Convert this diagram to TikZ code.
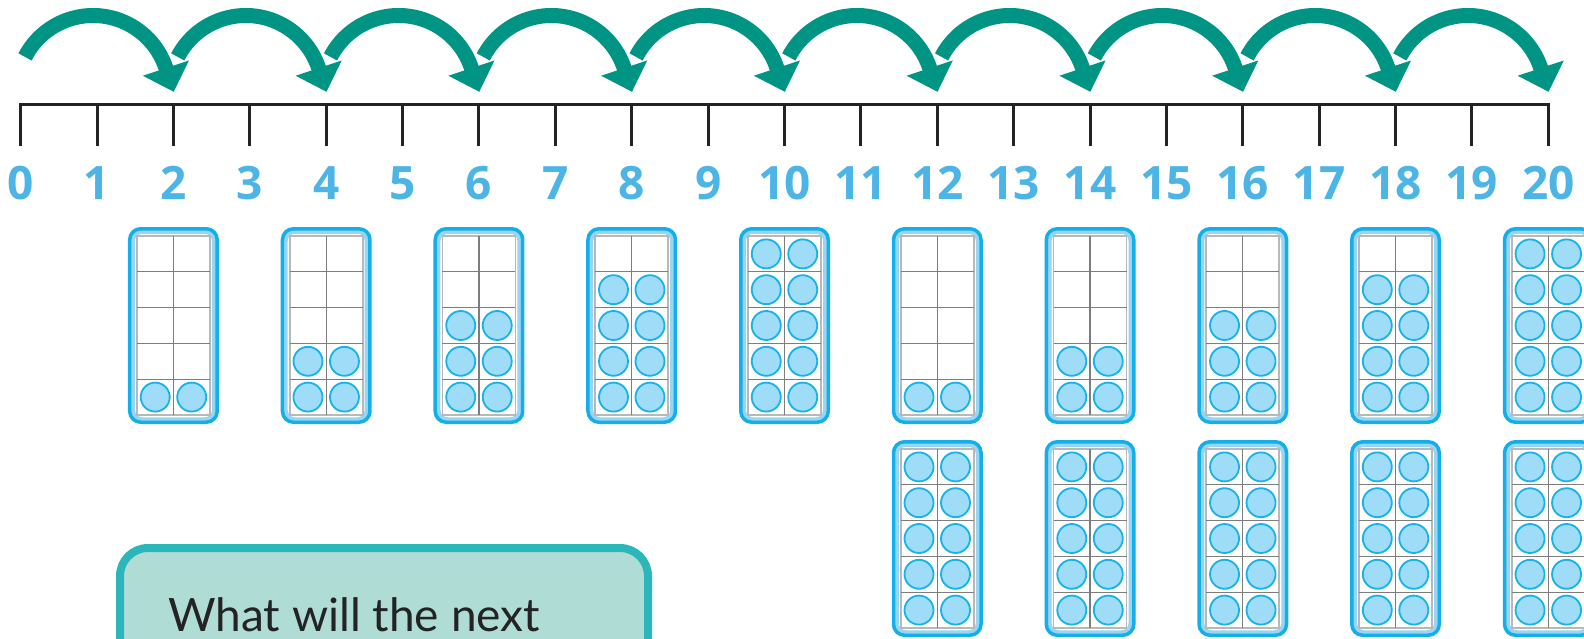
\documentclass[tikz,border=0pt]{standalone}
\usepackage{fontspec}
\setmainfont{Lato}
\newfontfamily\numfont{Open Sans}
\usetikzlibrary{arrows.meta}
\definecolor{jump}{RGB}{0,148,133}
\definecolor{numblue}{RGB}{77,181,230}
\definecolor{framblue}{RGB}{20,174,232}
\definecolor{framlight}{RGB}{150,214,243}
\definecolor{dotfill}{RGB}{158,220,248}
\definecolor{dotline}{RGB}{22,178,232}
\definecolor{gridgray}{RGB}{125,125,125}
\definecolor{boxfill}{RGB}{176,220,214}
\definecolor{boxline}{RGB}{43,182,185}
\definecolor{linegray}{RGB}{35,35,35}
\newcommand\tenframe[3]{%
\begin{scope}[shift={(#1,#2)}]
\draw[framlight,line width=4,rounded corners=9] (-40.5,4.75) rectangle (40.5,192.25);
\draw[framblue,line width=3.5,rounded corners=11] (-43.75,1.75) rectangle (43.75,195.25);
\draw[gridgray!55,line width=1.6] (-36.5,9) rectangle (36.5,188);
\foreach \r in {1,...,4} \draw[gridgray,line width=1.1] (-36.5,9+35.8*\r) -- (36.5,9+35.8*\r);
\draw[gridgray,line width=1.1] (0,9) -- (0,188);
\pgfmathtruncatemacro\rows{#3/2}%
\ifnum\rows>0
\foreach \r in {1,...,\rows} {\foreach \cx in {-18.25,18.25} \draw[dotline,fill=dotfill,line width=1.8] (\cx,188-35.8*\r+17.9) circle[radius=14.5];}
\fi
\end{scope}}
\tikzset{
  jumparrow/.style={jump,line width=15,-{Triangle[width=47pt,length=25pt]}},
  numlabel/.style={numblue,font=\numfont\bfseries\fontsize{46}{46}\selectfont,anchor=base,inner sep=0pt},
  tickline/.style={linegray,line width=3},
  textbox/.style={draw=boxline,fill=boxfill,line width=8,rounded corners=28},
}
\begin{document}
\begin{tikzpicture}[x=1pt,y=-1pt]
\useasboundingbox (0,0) rectangle (1584,639);
% number line
\draw[tickline] (20.7,146) -- (20.7,105) -- (1548.3,105) -- (1548.3,146);
\foreach \n in {1,...,19} \draw[tickline] (20.7+76.38*\n,105) -- (20.7+76.38*\n,146);
\foreach \n in {0,...,20} \node[numlabel] (n\n) at (20.7+76.38*\n,200) {\n};
% jumps
\foreach \k in {0,...,9} {
  \pgfmathsetmacro\cx{16.7+76.38*(2*\k+1)}
  \coordinate (s\k) at ([shift={(207.4:76.7)}]\cx,92.2);
  \draw[jumparrow] (s\k) arc[start angle=207.4,end angle=341.7,radius=76.7] -- ++(71.7:25);
}
% ten frames
\tenframe{173.46}{227}{2}
\tenframe{326.22}{227}{4}
\tenframe{478.98}{227}{6}
\tenframe{631.74}{227}{8}
\tenframe{784.5}{227}{10}
\tenframe{937.26}{227}{2}
\tenframe{1090.02}{227}{4}
\tenframe{1242.78}{227}{6}
\tenframe{1395.54}{227}{8}
\tenframe{1548.3}{227}{10}
\tenframe{937.26}{440}{10}
\tenframe{1090.02}{440}{10}
\tenframe{1242.78}{440}{10}
\tenframe{1395.54}{440}{10}
\tenframe{1548.3}{440}{10}
% question box
\draw[textbox] (120,548) rectangle (648,720);
\node[anchor=base west,inner sep=0pt,text=linegray,font=\fontsize{46}{46}\selectfont] (q) at (168,631) {What will the next};
\end{tikzpicture}
\end{document}
